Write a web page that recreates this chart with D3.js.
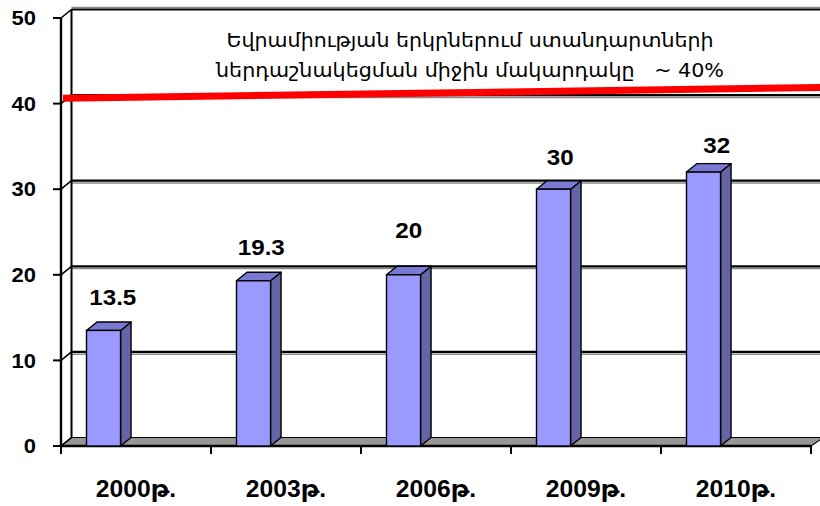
<!DOCTYPE html>
<html><head><meta charset="utf-8">
<script src="https://cdn.jsdelivr.net/npm/d3@7"></script>
<style>html,body{margin:0;padding:0;background:#fff;overflow:hidden}</style>
</head><body>
<svg id="c" width="820" height="506"></svg>
<script>
// ---- data ----
const categories = ["2000թ.", "2003թ.", "2006թ.", "2009թ.", "2010թ."];
const values = [13.5, 19.3, 20, 30, 32];
const valueLabels = ["13.5", "19.3", "20", "30", "32"];
const yTicks = [0, 10, 20, 30, 40, 50];
const yTickLabels = ["0", "10", "20", "30", "40", "50"];
const noteLines = ["Եվրամիության երկրներում ստանդարտների", "ներդաշնակեցման միջին մակարդակը   ~ 40%"];
const refValue = 40;

// ---- layout (not data) ----
const labelNudgeX = [4, 2.5, 0, 1.5, 8];
const labelNudgeY = [0, 0, -11, 1, 6];
const DX = 10.5, DY = -8.5;   // 3D depth offset

const svg = d3.select("#c");
const x = d3.scaleBand().domain(categories).range([61, 811]).paddingInner(0).paddingOuter(0);
const y = d3.scaleLinear().domain([0, 50]).range([446, 18]);
const bw = x.bandwidth();
const barOff = bw * 0.17, barW = bw * 0.227;
const x0 = x.range()[0], x1 = x.range()[1];
const W = 830;

function stretch(sel, k) {
  sel.each(function () {
    const len = this.getComputedTextLength();
    d3.select(this).attr("textLength", len * k).attr("lengthAdjust", "spacingAndGlyphs");
  });
}

// back wall top border
svg.append("line").attr("x1", x0 + DX).attr("x2", W).attr("y1", y(50) + DY - 2).attr("y2", y(50) + DY - 2)
  .attr("stroke", "#8a8a8a").attr("stroke-width", 1.5);
svg.append("line").attr("x1", x0 + DX).attr("x2", W).attr("y1", y(50) + DY).attr("y2", y(50) + DY)
  .attr("stroke", "#000").attr("stroke-width", 2.2);

// gridlines on back wall (with grey shadow)
const grid = yTicks.filter(t => t > 0 && t < 50);
svg.selectAll(".gs").data(grid).join("line")
  .attr("x1", x0 + DX).attr("x2", W).attr("y1", d => y(d) + DY + 2.3).attr("y2", d => y(d) + DY + 2.3)
  .attr("stroke", "#8a8a8a").attr("stroke-width", 1.5);
svg.selectAll(".g").data(grid).join("line")
  .attr("x1", x0 + DX).attr("x2", W).attr("y1", d => y(d) + DY).attr("y2", d => y(d) + DY)
  .attr("stroke", "#000").attr("stroke-width", 2.2);

// floor
svg.append("path")
  .attr("d", `M${x0},${y(0)} L${x1},${y(0)} L${x1 + DX + 2},${y(0) + DY} L${W},${y(0) + DY} L${x0 + DX},${y(0) + DY} Z`)
  .attr("fill", "#969696").attr("stroke", "#000").attr("stroke-width", 1.2);
svg.append("line").attr("x1", x0).attr("x2", x1).attr("y1", y(0)).attr("y2", y(0))
  .attr("stroke", "#000").attr("stroke-width", 2.6);

// side wall lines
svg.append("line").attr("x1", x0 + DX).attr("x2", x0 + DX).attr("y1", y(50) + DY).attr("y2", y(0) + DY)
  .attr("stroke", "#000").attr("stroke-width", 2);
svg.append("line").attr("x1", x0).attr("x2", x0).attr("y1", y(50)).attr("y2", y(0))
  .attr("stroke", "#000").attr("stroke-width", 2.4);
// diagonals + ticks
svg.selectAll(".dg").data(yTicks).join("line")
  .attr("x1", x0).attr("x2", x0 + DX).attr("y1", d => y(d)).attr("y2", d => y(d) + DY)
  .attr("stroke", "#000").attr("stroke-width", 1.6);
svg.selectAll(".yt").data(yTicks).join("line")
  .attr("x1", x0 - 8).attr("x2", x0).attr("y1", d => y(d)).attr("y2", d => y(d))
  .attr("stroke", "#000").attr("stroke-width", 2);
svg.selectAll(".yl").data(yTicks).join("text")
  .attr("x", 36).attr("y", d => y(d)).attr("dy", "0.36em").attr("text-anchor", "end")
  .attr("font-family", "Liberation Sans, Arial, sans-serif").attr("font-weight", "bold").attr("font-size", 20)
  .text((d, i) => yTickLabels[i])
  .call(stretch, 1.1);

// x ticks
const xt = categories.map(c => x(c)).concat([x1]);
svg.selectAll(".xt").data(xt).join("line")
  .attr("x1", d => d).attr("x2", d => d).attr("y1", y(0)).attr("y2", y(0) + 8)
  .attr("stroke", "#000").attr("stroke-width", 2);
svg.selectAll(".xl").data(categories).join("text")
  .attr("x", d => x(d) + bw / 2).attr("y", 497).attr("text-anchor", "middle")
  .attr("font-family", "Liberation Sans, DejaVu Sans, sans-serif").attr("font-weight", "bold").attr("font-size", 23.5)
  .text(d => d)
  .call(stretch, 1.05);

// bars
const bars = svg.selectAll(".bar").data(values).join("g");
bars.append("path").attr("d", (d, i) => {
  const bx = x(categories[i]) + barOff + barW, top = y(d), bot = y(0);
  return `M${bx},${bot} L${bx},${top} L${bx + DX},${top + DY} L${bx + DX},${bot + DY} Z`;
}).attr("fill", "#6464a6").attr("stroke", "#000").attr("stroke-width", 1.4).attr("stroke-linejoin", "round");
bars.append("path").attr("d", (d, i) => {
  const bx = x(categories[i]) + barOff, top = y(d);
  return `M${bx},${top} L${bx + DX},${top + DY} L${bx + barW + DX},${top + DY} L${bx + barW},${top} Z`;
}).attr("fill", "#7a7ad4").attr("stroke", "#000").attr("stroke-width", 1.4).attr("stroke-linejoin", "round");
bars.append("rect")
  .attr("x", (d, i) => x(categories[i]) + barOff).attr("y", d => y(d))
  .attr("width", barW).attr("height", d => y(0) - y(d))
  .attr("fill", "#9999ff").attr("stroke", "#000").attr("stroke-width", 1.4);

// value labels
svg.selectAll(".vl").data(values).join("text")
  .attr("x", (d, i) => x(categories[i]) + barOff + barW / 2 + DX / 2 + labelNudgeX[i])
  .attr("y", (d, i) => y(d) + DY - 17 + labelNudgeY[i])
  .attr("text-anchor", "middle")
  .attr("font-family", "Liberation Sans, Arial, sans-serif").attr("font-weight", "bold").attr("font-size", 22)
  .text((d, i) => valueLabels[i])
  .call(stretch, 1.1);

// reference red line (~40%)
svg.append("line")
  .attr("x1", x0 + 2).attr("y1", y(refValue) - 5.3)
  .attr("x2", W).attr("y2", y(refValue) - 16.2)
  .attr("stroke", "#ff0000").attr("stroke-width", 7);

// note text
const widths = [487, 508];
svg.selectAll(".note").data(noteLines).join("text")
  .attr("x", 470).attr("y", (d, i) => 46.7 + i * 30.6)
  .attr("text-anchor", "middle")
  .attr("font-family", "DejaVu Sans, sans-serif").attr("font-size", 20)
  .attr("textLength", (d, i) => widths[i]).attr("lengthAdjust", "spacingAndGlyphs")
  .style("white-space", "pre")
  .text(d => d);
</script>
</body></html>
